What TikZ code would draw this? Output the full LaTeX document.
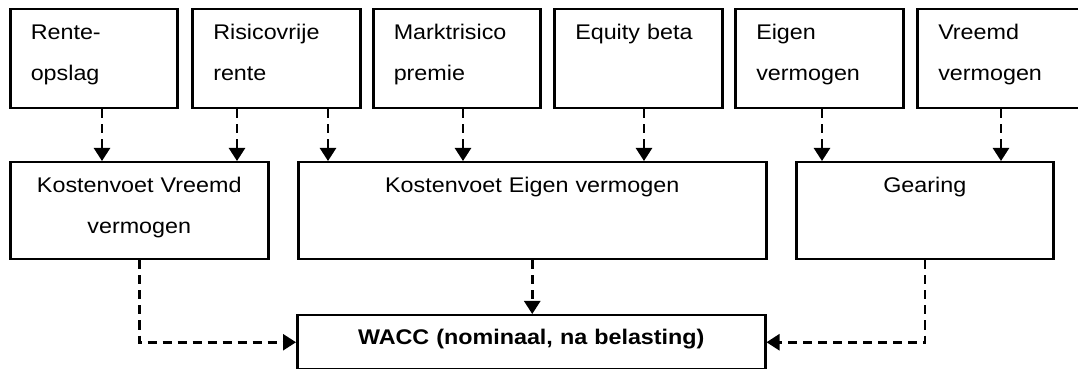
\documentclass[tikz,border=0pt]{standalone}
\usepackage{fontspec}
\setmainfont{Liberation Sans}[FakeStretch=1.1]
\usetikzlibrary{arrows.meta}

\tikzset{
  box/.style={draw, line width=1.25pt, inner sep=0pt, anchor=north west,
    font=\fontsize{10.6pt}{20.5pt}\selectfont},
  inbox/.style={box, align=left, inner xsep=10pt, text width=63pt,
    minimum height=49.5pt, text height=15pt, text depth=34.5pt},
  midbox/.style={box, align=center, minimum height=48.5pt,
    text height=15pt, text depth=33.5pt},
  flow/.style={line width=1.25pt, dash pattern=on 4.5pt off 3pt,
    -{Triangle[width=8pt,length=6.5pt]}}
}

\begin{document}
\begin{tikzpicture}[x=0.5pt, y=-0.5pt]
                \useasboundingbox (0,0) rectangle (1078,369);

                % Inputs
                \node[inbox, minimum width=83.5pt] (ro) at (9,8) {Rente-\\opslag};
                \node[inbox, minimum width=84pt] (rv) at (191,8) {Risicovrije\\rente};
                \node[inbox, minimum width=83.5pt] (mp) at (372,8) {Marktrisico\\premie};
                \node[inbox, minimum width=84pt] (eb) at (553,8) {Equity beta};
                \node[inbox, minimum width=84pt] (ev) at (734,8) {Eigen\\vermogen};
                \node[inbox, minimum width=84pt] (vv) at (916,8) {Vreemd\\vermogen};

                % Intermediate results
                \node[midbox, text width=129pt] (kvv) at (9,161) {Kostenvoet Vreemd\\vermogen};
                \node[midbox, text width=234pt] (kev) at (297,161) {Kostenvoet Eigen vermogen};
                \node[midbox, text width=128.5pt] (gear) at (795,161) {Gearing};

                % Result
                \node[box, align=center, text width=234pt, minimum height=27pt,
                  text height=14.5pt, text depth=12.5pt, font=\fontsize{10.6pt}{20.5pt}\selectfont\bfseries]
                  (wacc) at (296,314) {WACC (nominaal, na belasting)};

                % Inputs to intermediate results
                \draw[flow] ([xshift=46.5pt]ro.south west) -- ([xshift=46.5pt]ro.south west |- kvv.north);
                \draw[flow] ([xshift=23pt]rv.south west) -- ([xshift=23pt]rv.south west |- kvv.north);
                \draw[flow] ([xshift=68.5pt]rv.south west) -- ([xshift=68.5pt]rv.south west |- kev.north);
                \draw[flow] ([xshift=45.5pt]mp.south west) -- ([xshift=45.5pt]mp.south west |- kev.north);
                \draw[flow] ([xshift=45.5pt]eb.south west) -- ([xshift=45.5pt]eb.south west |- kev.north);
                \draw[flow] ([xshift=44pt]ev.south west) -- ([xshift=44pt]ev.south west |- gear.north);
                \draw[flow] ([xshift=42.5pt]vv.south west) -- ([xshift=42.5pt]vv.south west |- gear.north);

                % Intermediate results to WACC
                \draw[flow] (kvv.south) |- (wacc.west);
                \draw[flow] (kev.south) -- (kev.south |- wacc.north);
                \draw[flow] (gear.south) |- (wacc.east);
\end{tikzpicture}
\end{document}
